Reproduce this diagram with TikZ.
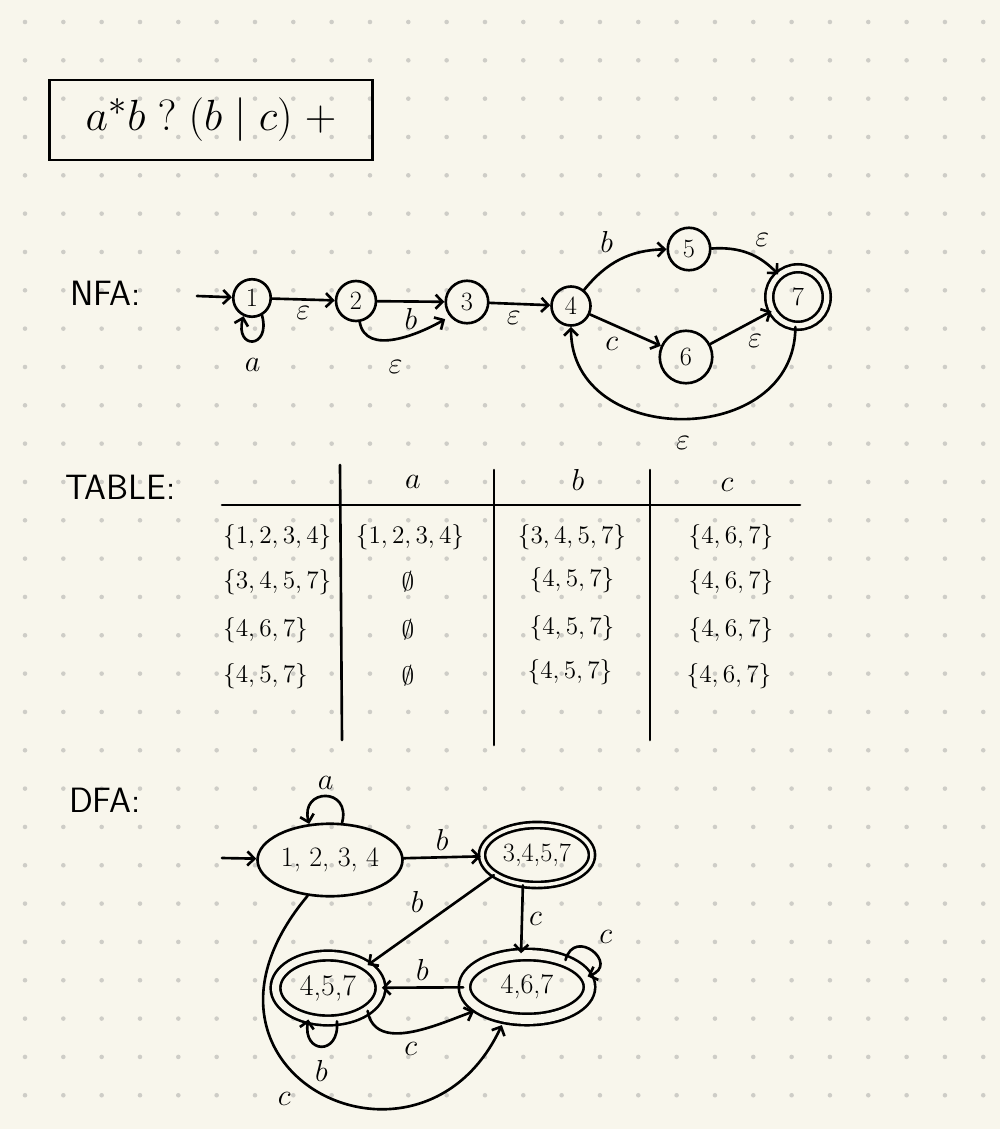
\documentclass[tikz,border=0pt]{standalone}
\usepackage{tikz}
\usetikzlibrary{shapes.geometric}
\usetikzlibrary{arrows.meta, positioning}
\usepackage{amssymb}
\usepackage{xcolor}
\definecolor{paper}{RGB}{248,246,236}
\definecolor{griddot}{RGB}{206,205,199}

\begin{document}
\begin{tikzpicture}[x=0.02cm, y=0.02cm, >={Straight Barb[length=4pt, width=8pt]}, line width=1.5pt, line cap=round,
    state/.style={circle, draw, inner sep=0pt, minimum size=0.8cm, font=\fontsize{15}{15}\selectfont},
    accept/.style={state, double=paper, double distance=3pt},
    dstate/.style={ellipse, draw, inner sep=0pt, font=\fontsize{15}{15}\selectfont},
    daccept/.style={dstate, double=paper, double distance=4pt},
    lbl/.style={font=\fontsize{18}{18}\selectfont},
    heading/.style={anchor=west, font=\sffamily\fontsize{20}{20}\selectfont},
    entry/.style={font=\fontsize{15}{15}\selectfont}]

% Paper with the dot grid
\useasboundingbox (0,0) rectangle (1000,-1129);
\fill[paper] (0,0) rectangle (1000,-1129);
\foreach \i in {0,...,25}
  \foreach \j in {0,...,28}
    \fill[griddot] (25+38.33*\i, -22-38.33*\j) circle (1.3pt);

% Regular expression in a box
\node[draw, minimum width=6.46cm, minimum height=1.6cm, font=\fontsize{30}{30}\selectfont] (regex) at (211,-120) {$a^{*}b\;?\;(b\;|\;c)\;+$};

% NFA states
\node[heading] (nfa) at (63,-293) {NFA:};
\node[state, minimum size=0.75cm] (n1) at (252,-298) {1};
\node[state] (n2) at (356,-301) {2};
\node[state, minimum size=0.85cm] (n3) at (467,-302) {3};
\node[state, minimum size=0.78cm] (n4) at (571,-306) {4};
\node[state, minimum size=0.85cm] (n5) at (689,-249) {5};
\node[state, minimum size=1.05cm] (n6) at (686,-357) {6};
\node[accept, minimum size=1.15cm] (n7) at (798,-297) {7};
\coordinate (nstart) at (197,-296);

% NFA transitions
\draw[->] (nstart) -- (n1);
\draw[->] (n1.-60) .. controls +(-75:0.7cm) and +(-105:0.7cm) .. node[lbl, below=6pt] {$a$} (n1.-115);
\draw[->] (n1) -- node[lbl, below] {$\varepsilon$} (n2);
\draw[->] (n2) -- node[lbl, below] {$b$} (n3);
\draw[->, shorten >=3pt] (n2.-80) to[out=-80, in=-150] node[lbl, below=8pt] {$\varepsilon$} (n3.-140);
\draw[->] (n3) -- node[lbl, pos=0.4, below] {$\varepsilon$} (n4);
\draw[->] (n4) to[bend left=25] node[lbl, above left] {$b$} (n5);
\draw[->] (n5) to[bend left=25] node[lbl, above right] {$\varepsilon$} (n7);
\draw[->] (n4) -- node[lbl, below left] {$c$} (n6);
\draw[->] (n6) -- node[lbl, below right] {$\varepsilon$} (n7);
\draw[->] (n7.-95) to[out=-90, in=-90, looseness=1.4] node[lbl, below=6pt] {$\varepsilon$} (n4.-90);

% Subset table
\node[heading] (tbl) at (58,-487) {TABLE:};
\draw (222,-505) -- (800,-505);
\draw (340,-465) -- (342,-740);
\draw (494,-470) -- (494,-745);
\draw (650,-470) -- (650,-740);

\node[lbl] (ha) at (413,-482) {$a$};
\node[lbl] (hb) at (578,-480) {$b$};
\node[lbl] (hc) at (727,-485) {$c$};

\node[entry, anchor=west] (r1) at (216,-537) {$\{1,2,3,4\}$};
\node[entry, anchor=west] (r2) at (216,-582) {$\{3,4,5,7\}$};
\node[entry, anchor=west] (r3) at (216,-630) {$\{4,6,7\}$};
\node[entry, anchor=west] (r4) at (216,-676) {$\{4,5,7\}$};

\node[entry] (r1a) at (410,-537) {$\{1,2,3,4\}$};
\node[entry] (r2a) at (408,-582) {$\emptyset$};
\node[entry] (r3a) at (408,-630) {$\emptyset$};
\node[entry] (r4a) at (408,-676) {$\emptyset$};

\node[entry] (r1b) at (572,-537) {$\{3,4,5,7\}$};
\node[entry] (r2b) at (572,-580) {$\{4,5,7\}$};
\node[entry] (r3b) at (572,-628) {$\{4,5,7\}$};
\node[entry] (r4b) at (570,-672) {$\{4,5,7\}$};

\node[entry] (r1c) at (731,-537) {$\{4,6,7\}$};
\node[entry] (r2c) at (731,-582) {$\{4,6,7\}$};
\node[entry] (r3c) at (731,-630) {$\{4,6,7\}$};
\node[entry] (r4c) at (729,-676) {$\{4,6,7\}$};

% DFA states
\node[heading] (dfa) at (62,-800) {DFA:};
\node[dstate, minimum width=2.9cm, minimum height=1.45cm, font=\fontsize{16}{16}\selectfont] (d1) at (330,-860) {1, 2, 3, 4};
\node[daccept, double distance=2pt, minimum width=2.2cm, minimum height=1.2cm] (d2) at (537,-855) {3,4,5,7};
\node[daccept, minimum width=2.1cm, minimum height=1.3cm, font=\fontsize{17}{17}\selectfont] (d3) at (328,-988) {4,5,7};
\node[daccept, double distance=5pt, minimum width=2.5cm, minimum height=1.3cm, font=\fontsize{16}{16}\selectfont] (d4) at (527,-987) {4,6,7};
\coordinate (dstart) at (222,-858);

% DFA transitions
\draw[->] (dstart) -- (d1);
\draw[->] (d1.72) .. controls +(75:0.75cm) and +(105:0.75cm) .. node[lbl, above] {$a$} (d1.120);
\draw[->] (d1) -- node[lbl, above] {$b$} (d2);
\draw[->] (d2.205) -- node[lbl, above left] {$b$} (d3.30);
\draw[->] (d2.-115) -- node[lbl, right] {$c$} (d4.100);
\draw[->] (d4.35) .. controls +(75:0.7cm) and +(20:0.7cm) .. node[lbl, above right] {$c$} (d4.10);
\draw[->] (d4) -- node[lbl, above] {$b$} (d3);
\draw[->, shorten >=3pt] (d3.-30) to[out=-80, in=200] node[lbl, below=2pt] {$c$} (d4.205);
\draw[->] (d3.-75) .. controls +(-85:0.7cm) and +(-100:0.7cm) .. node[lbl, below=4pt] {$b$} (d3.-122);
\draw[->, shorten >=4pt] (d1.238) .. controls +(-130:4.6cm) and +(-115:4cm) .. node[lbl, pos=0.45, below left=4pt] {$c$} (d4.235);

\end{tikzpicture}
\end{document}
